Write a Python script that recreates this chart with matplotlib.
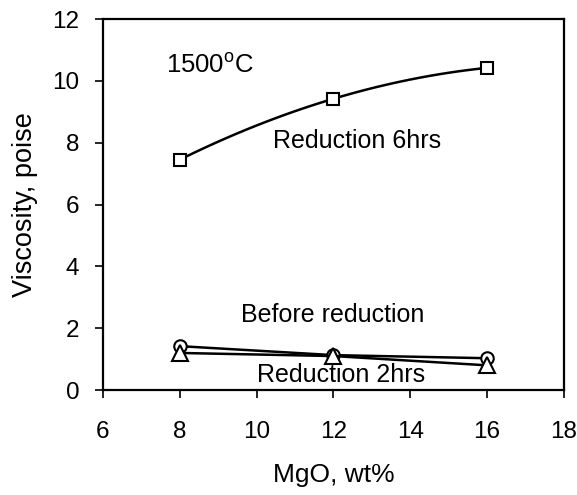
import numpy as np
import matplotlib.pyplot as plt

plt.rcParams['font.family'] = ['Liberation Sans', 'DejaVu Sans']

mgo = [8, 12, 16]
red6 = [7.45, 9.42, 10.42]
before = [1.42, 1.13, 1.03]
red2 = [1.2, 1.1, 0.8]

fig = plt.figure(figsize=(5.77, 4.95), dpi=100)
ax = fig.add_axes([0.1785, 0.212, 0.7985, 0.7496])

# smooth line through the 6hrs points
c = np.polyfit(mgo, red6, 2)
xs = np.linspace(mgo[0], mgo[-1], 100)
ax.plot(xs, np.polyval(c, xs), color='black', lw=1.8)
ax.plot(mgo, red6, 's', ms=9, mfc='white', mec='black', mew=1.5)

ax.plot(mgo, before, '-o', color='black', lw=1.8, ms=9, mfc='white', mec='black', mew=1.5)
ax.plot(mgo, red2, '-^', color='black', lw=1.8, ms=11, mfc='white', mec='black', mew=1.5)

ax.text(7.65, 10.5, '1500$^\\mathregular{o}$C', fontsize=18.5, va='center')
ax.text(12.63, 8.06, 'Reduction 6hrs', fontsize=18, ha='center', va='center')
ax.text(11.97, 2.42, 'Before reduction', fontsize=18, ha='center', va='center')
ax.text(12.2, 0.48, 'Reduction 2hrs', fontsize=18, ha='center', va='center')

ax.set_xlim(6, 18)
ax.set_ylim(0, 12)
ax.set_xticks(range(6, 19, 2))
ax.set_yticks(range(0, 13, 2))
ax.tick_params(direction='out', length=6, labelsize=17.5, width=1.2)
ax.tick_params(axis='x', pad=16)
ax.tick_params(axis='y', pad=11)
for s in ax.spines.values():
    s.set_linewidth(1.6)
ax.set_xlabel('MgO, wt%', fontsize=19, labelpad=15)
ax.set_ylabel('Viscosity, poise', fontsize=19.5, labelpad=10)

fig.savefig('out.png', dpi=100)
